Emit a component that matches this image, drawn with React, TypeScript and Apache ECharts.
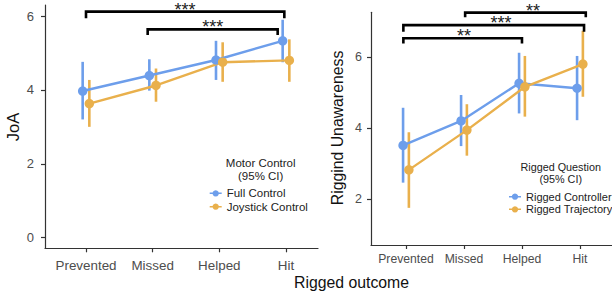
import React, { useEffect, useRef } from "react";
import * as echarts from "echarts";

const categories = ["Prevented", "Missed", "Helped", "Hit"];
const catPos = [0, 1, 2, 3];

// Left panel: JoA by Motor Control
const fullMean = [3.97, 4.39, 4.81, 5.33];
const fullLo = [3.2, 3.98, 4.27, 4.75];
const fullHi = [4.76, 4.83, 5.33, 5.9];
const joyMean = [3.63, 4.12, 4.75, 4.8];
const joyLo = [3.0, 3.68, 4.22, 4.22];
const joyHi = [4.27, 4.58, 5.29, 5.37];

// Right panel: Riggind Unawareness by Rigged Question
const ctrlMean = [3.52, 4.21, 5.27, 5.13];
const ctrlLo = [2.47, 3.5, 4.42, 4.23];
const ctrlHi = [4.58, 4.94, 6.13, 6.04];
const trajMean = [2.83, 3.95, 5.17, 5.81];
const trajLo = [1.76, 3.23, 4.33, 4.89];
const trajHi = [3.89, 4.68, 6.04, 6.75];

// Significance brackets: [x start, x end, bar height, tip end, label x]
const leftBrackets = [
  [0, 2.975, 6.12, 5.94, 1.485],
  [0.925, 2.875, 5.64, 5.49, 1.9],
];
const leftBracketLabels = ["***", "***"];
const rightBrackets = [
  [1.02, 3.1, 7.26, 7.13, 2.19],
  [-0.045, 3.07, 6.91, 6.72, 1.64],
  [-0.045, 2.0, 6.54, 6.39, 1.0],
];
const rightBracketLabels = ["**", "***", "**"];

const leftYTicks = [0, 2, 4, 6];
const rightYTicks = [2, 4, 6];

const BLUE = "#6d9eeb";
const ORANGE = "#e9b04c";
const FONT = "Liberation Sans, Arial, sans-serif";
const DODGE = 0.05;

const legendIcon =
  "path://M0,3.1 H14 V4.9 H0 Z M7,0.3 A3.7,3.7 0 1 1 6.99,0.3 Z";

function pts(mean: number[], off: number) {
  return mean.map((v, i) => [catPos[i] + off, v]);
}
function bars(lo: number[], hi: number[], off: number) {
  return lo.map((v, i) => [catPos[i] + off, v, hi[i]]);
}

function errSeries(name: string, data: number[][], color: string, idx: number) {
  return {
    type: "custom",
    name,
    xAxisIndex: idx,
    yAxisIndex: idx,
    z: 1,
    clip: false,
    encode: { x: 0, y: [1, 2] },
    data,
    renderItem: (params: any, api: any) => {
      const x = api.value(0);
      const p1 = api.coord([x, api.value(1)]);
      const p2 = api.coord([x, api.value(2)]);
      return {
        type: "line",
        shape: { x1: p1[0], y1: p1[1], x2: p2[0], y2: p2[1] },
        style: { stroke: color, lineWidth: 2.6 },
      };
    },
  };
}

function lineSeries(name: string, data: number[][], color: string, idx: number) {
  return {
    type: "line",
    name,
    xAxisIndex: idx,
    yAxisIndex: idx,
    z: 3,
    data,
    symbol: "circle",
    symbolSize: 9.5,
    showSymbol: true,
    itemStyle: { color },
    lineStyle: { color, width: 2.4 },
  };
}

function bracketSeries(name: string, data: number[][], labels: string[], idx: number) {
  return {
    type: "custom",
    name,
    xAxisIndex: idx,
    yAxisIndex: idx,
    z: 5,
    clip: false,
    encode: { x: [0, 1], y: [2, 3] },
    data,
    renderItem: (params: any, api: any) => {
      const a = api.coord([api.value(0), api.value(2)]);
      const b = api.coord([api.value(1), api.value(2)]);
      const ta = api.coord([api.value(0), api.value(3)]);
      const tb = api.coord([api.value(1), api.value(3)]);
      const l = api.coord([api.value(4), api.value(2)]);
      return {
        type: "group",
        children: [
          {
            type: "polyline",
            shape: { points: [[ta[0], ta[1]], [a[0], a[1]], [b[0], b[1]], [tb[0], tb[1]]] },
            style: { stroke: "#000", lineWidth: 2.6, fill: null },
          },
          {
            type: "text",
            x: l[0],
            y: l[1] - 2,
            style: {
              text: labels[params.dataIndex],
              textAlign: "center",
              textVerticalAlign: "middle",
              fontSize: 18,
              fontFamily: FONT,
              fill: "#222",
            },
          },
        ],
      };
    },
  };
}

function xAxis(idx: number, min: number, max: number, fs: number, margin: number) {
  return {
    type: "value",
    gridIndex: idx,
    min,
    max,
    splitLine: { show: false },
    axisLine: { show: true, onZero: false, lineStyle: { color: "#333", width: 1.2 } },
    axisTick: { show: true, customValues: catPos, length: 4, lineStyle: { color: "#333", width: 1.2 } },
    axisLabel: {
      customValues: catPos,
      formatter: (v: number) => categories[Math.round(v)],
      fontSize: fs,
      color: "#4d4d4d",
      fontFamily: FONT,
      margin,
    },
  };
}

function yAxis(idx: number, min: number, max: number, ticks: number[], fs: number, margin: number) {
  return {
    type: "value",
    gridIndex: idx,
    min,
    max,
    splitLine: { show: false },
    axisLine: { show: true, onZero: false, lineStyle: { color: "#333", width: 1.2 } },
    axisTick: { show: true, customValues: ticks, length: 4, lineStyle: { color: "#333", width: 1.2 } },
    axisLabel: {
      customValues: ticks,
      fontSize: fs,
      color: "#4d4d4d",
      fontFamily: FONT,
      margin,
    },
  };
}

export default function App() {
  const ref = useRef<HTMLDivElement>(null);
  useEffect(() => {
    if (!ref.current) return;
    const chart = echarts.init(ref.current, null, { renderer: "svg" });
    const option: any = {
      animation: false,
      backgroundColor: "#fff",
      grid: [
        { left: 45, top: 5, width: 273, height: 243.3 },
        { left: 371, top: 12.3, right: 0, height: 232.7 },
      ],
      xAxis: [xAxis(0, -0.615, 3.48, 13.4, 11), xAxis(1, -0.603, 3.552, 12.2, 8)],
      yAxis: [
        yAxis(0, -0.29, 6.3, leftYTicks, 13, 11),
        yAxis(1, 0.713, 7.27, rightYTicks, 12.5, 9),
      ],
      legend: [
        {
          data: ["Full Control", "Joystick Control"],
          orient: "vertical",
          left: 209.7,
          top: 186.8,
          padding: 0,
          icon: legendIcon,
          itemWidth: 12,
          itemHeight: 7,
          itemGap: 0.4,
          selectedMode: false,
          textStyle: { fontSize: 11.5, color: "#222", fontFamily: FONT, lineHeight: 13 },
        },
        {
          data: ["Rigged Controller", "Rigged Trajectory"],
          orient: "vertical",
          left: 509,
          top: 190.4,
          padding: 0,
          icon: legendIcon,
          itemWidth: 12,
          itemHeight: 7,
          itemGap: 0,
          selectedMode: false,
          textStyle: { fontSize: 11, color: "#222", fontFamily: FONT, lineHeight: 12.6 },
        },
      ],
      graphic: [
        { type: "text", x: 260.7, y: 163.3, style: { text: "Motor Control", textAlign: "center", textVerticalAlign: "middle", fontSize: 11.5, fontFamily: FONT, fill: "#222" } },
        { type: "text", x: 260.7, y: 175.7, style: { text: "(95% CI)", textAlign: "center", textVerticalAlign: "middle", fontSize: 11.5, fontFamily: FONT, fill: "#222" } },
        { type: "text", x: 560.7, y: 166.7, style: { text: "Rigged Question", textAlign: "center", textVerticalAlign: "middle", fontSize: 10.8, fontFamily: FONT, fill: "#222" } },
        { type: "text", x: 560.7, y: 179.3, style: { text: "(95% CI)", textAlign: "center", textVerticalAlign: "middle", fontSize: 10.8, fontFamily: FONT, fill: "#222" } },
        { type: "text", x: 13.3, y: 127, rotation: Math.PI / 2, style: { text: "JoA", textAlign: "center", textVerticalAlign: "middle", fontSize: 16.5, fontFamily: FONT, fill: "#111" } },
        { type: "text", x: 337.8, y: 128, rotation: Math.PI / 2, style: { text: "Riggind Unawareness", textAlign: "center", textVerticalAlign: "middle", fontSize: 15.8, fontFamily: FONT, fill: "#111" } },
        { type: "text", x: 351.5, y: 282, style: { text: "Rigged outcome", textAlign: "center", textVerticalAlign: "middle", fontSize: 15.8, fontFamily: FONT, fill: "#111" } },
      ],
      series: [
        errSeries("Full Control CI", bars(fullLo, fullHi, -DODGE), BLUE, 0),
        errSeries("Joystick Control CI", bars(joyLo, joyHi, DODGE), ORANGE, 0),
        lineSeries("Full Control", pts(fullMean, -DODGE), BLUE, 0),
        lineSeries("Joystick Control", pts(joyMean, DODGE), ORANGE, 0),
        bracketSeries("left brackets", leftBrackets, leftBracketLabels, 0),
        errSeries("Rigged Controller CI", bars(ctrlLo, ctrlHi, -DODGE), BLUE, 1),
        errSeries("Rigged Trajectory CI", bars(trajLo, trajHi, DODGE), ORANGE, 1),
        lineSeries("Rigged Controller", pts(ctrlMean, -DODGE), BLUE, 1),
        lineSeries("Rigged Trajectory", pts(trajMean, DODGE), ORANGE, 1),
        bracketSeries("right brackets", rightBrackets, rightBracketLabels, 1),
      ],
    };
    chart.setOption(option);
    return () => chart.dispose();
  }, []);
  return (
    <div
      ref={ref}
      style={{ position: "fixed", left: 0, top: 0, width: 612, height: 294 }}
    />
  );
}
